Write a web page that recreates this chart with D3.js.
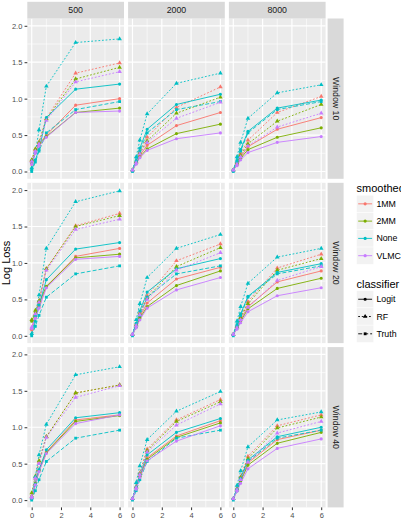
<!DOCTYPE html>
<html>
<head>
<meta charset="utf-8">
<script src="https://cdn.jsdelivr.net/npm/d3@7"></script>
<style>
  html, body { margin: 0; padding: 0; background: #ffffff; }
  svg { display: block; font-family: "Liberation Sans", Arial, Helvetica, sans-serif; }
</style>
</head>
<body>
<svg id="chart" width="401" height="522"></svg>
<script>
// ---------------- DATA ----------------
const xValues = [0, 0.25, 0.5, 1, 3, 6];
const sampleSizes = ["500", "2000", "8000"];
const windows = ["Window 10", "Window 20", "Window 40"];
const smoothers = ["1MM", "2MM", "None", "VLMC"];
const classifiers = ["Logit", "RF", "Truth"];
const yTicks = [0, 0.5, 1, 1.5, 2];
const xTicks = [0, 2, 4, 6];

// Truth classifier (same in every panel), drawn with the "None" colour
const truthLoss = [0.0, 0.13, 0.28, 0.53, 0.85, 0.96];

// Rows of each array follow `smoothers` order: 1MM, 2MM, None, VLMC
const w10s500Logit = [
  [0.10, 0.27, 0.38, 0.50, 0.91, 1.00],
  [0.12, 0.27, 0.36, 0.48, 0.81, 0.87],
  [0.02, 0.16, 0.30, 0.74, 1.13, 1.20],
  [0.10, 0.25, 0.35, 0.47, 0.81, 0.83]
];
const w10s500RF = [
  [0.15, 0.30, 0.40, 0.73, 1.35, 1.49],
  [0.16, 0.31, 0.40, 0.72, 1.27, 1.43],
  [0.05, 0.26, 0.57, 1.17, 1.77, 1.82],
  [0.14, 0.28, 0.38, 0.70, 1.23, 1.37]
];
const w10s2000Logit = [
  [0.02, 0.12, 0.22, 0.36, 0.63, 0.81],
  [0.02, 0.11, 0.20, 0.31, 0.52, 0.65],
  [0.02, 0.15, 0.32, 0.58, 0.92, 1.06],
  [0.02, 0.10, 0.19, 0.29, 0.45, 0.53]
];
const w10s2000RF = [
  [0.02, 0.14, 0.27, 0.47, 0.88, 1.16],
  [0.02, 0.13, 0.25, 0.42, 0.80, 1.02],
  [0.02, 0.20, 0.43, 0.79, 1.21, 1.35],
  [0.02, 0.12, 0.24, 0.40, 0.73, 0.95]
];
const w10s8000Logit = [
  [0.02, 0.10, 0.20, 0.34, 0.58, 0.74],
  [0.02, 0.09, 0.18, 0.30, 0.47, 0.60],
  [0.02, 0.15, 0.30, 0.55, 0.87, 0.98],
  [0.02, 0.08, 0.16, 0.26, 0.40, 0.48]
];
const w10s8000RF = [
  [0.02, 0.12, 0.24, 0.43, 0.81, 1.03],
  [0.02, 0.11, 0.22, 0.38, 0.69, 0.92],
  [0.02, 0.20, 0.40, 0.73, 1.08, 1.19],
  [0.02, 0.10, 0.20, 0.35, 0.61, 0.80]
];
const w20s500Logit = [
  [0.08, 0.25, 0.40, 0.67, 1.09, 1.20],
  [0.20, 0.32, 0.45, 0.68, 1.07, 1.12],
  [0.02, 0.20, 0.42, 0.77, 1.19, 1.28],
  [0.10, 0.24, 0.38, 0.66, 1.05, 1.09]
];
const w20s500RF = [
  [0.10, 0.30, 0.47, 0.92, 1.51, 1.68],
  [0.22, 0.35, 0.48, 0.92, 1.50, 1.65],
  [0.03, 0.28, 0.56, 1.20, 1.84, 1.99],
  [0.12, 0.30, 0.46, 0.90, 1.46, 1.60]
];
const w20s2000Logit = [
  [0.02, 0.13, 0.26, 0.45, 0.78, 0.94],
  [0.02, 0.12, 0.24, 0.40, 0.69, 0.89],
  [0.02, 0.17, 0.34, 0.60, 0.92, 1.06],
  [0.02, 0.11, 0.22, 0.38, 0.63, 0.80]
];
const w20s2000RF = [
  [0.02, 0.16, 0.32, 0.55, 1.03, 1.26],
  [0.02, 0.15, 0.30, 0.52, 0.95, 1.21],
  [0.02, 0.22, 0.44, 0.80, 1.20, 1.39],
  [0.02, 0.14, 0.29, 0.50, 0.90, 1.14]
];
const w20s8000Logit = [
  [0.02, 0.11, 0.22, 0.40, 0.74, 0.89],
  [0.02, 0.10, 0.20, 0.37, 0.65, 0.79],
  [0.02, 0.15, 0.30, 0.54, 0.87, 0.99],
  [0.02, 0.09, 0.18, 0.33, 0.55, 0.66]
];
const w20s8000RF = [
  [0.02, 0.13, 0.26, 0.47, 0.93, 1.12],
  [0.02, 0.12, 0.25, 0.44, 0.90, 1.06],
  [0.02, 0.20, 0.40, 0.72, 1.08, 1.20],
  [0.02, 0.11, 0.22, 0.39, 0.76, 0.95]
];
const w40s500Logit = [
  [0.03, 0.22, 0.40, 0.66, 1.10, 1.17],
  [0.05, 0.23, 0.41, 0.65, 1.08, 1.16],
  [0.02, 0.22, 0.42, 0.69, 1.13, 1.20],
  [0.03, 0.21, 0.39, 0.64, 1.05, 1.17]
];
const w40s500RF = [
  [0.05, 0.30, 0.52, 0.87, 1.47, 1.58],
  [0.10, 0.33, 0.54, 0.87, 1.47, 1.58],
  [0.03, 0.32, 0.62, 1.04, 1.72, 1.83],
  [0.05, 0.30, 0.50, 0.86, 1.41, 1.57]
];
const w40s2000Logit = [
  [0.02, 0.17, 0.33, 0.58, 0.88, 1.09],
  [0.02, 0.16, 0.32, 0.56, 0.86, 1.06],
  [0.02, 0.18, 0.35, 0.62, 0.93, 1.12],
  [0.02, 0.15, 0.31, 0.54, 0.81, 1.02]
];
const w40s2000RF = [
  [0.02, 0.18, 0.37, 0.70, 1.10, 1.38],
  [0.02, 0.18, 0.36, 0.68, 1.08, 1.35],
  [0.02, 0.24, 0.47, 0.83, 1.22, 1.49],
  [0.02, 0.17, 0.35, 0.66, 1.03, 1.32]
];
const w40s8000Logit = [
  [0.02, 0.14, 0.28, 0.51, 0.83, 0.96],
  [0.02, 0.13, 0.26, 0.48, 0.78, 0.93],
  [0.02, 0.15, 0.30, 0.55, 0.87, 1.00],
  [0.02, 0.12, 0.23, 0.43, 0.71, 0.84]
];
const w40s8000RF = [
  [0.02, 0.16, 0.32, 0.60, 1.02, 1.17],
  [0.02, 0.15, 0.31, 0.57, 0.99, 1.14],
  [0.02, 0.20, 0.40, 0.73, 1.10, 1.21],
  [0.02, 0.14, 0.28, 0.52, 0.92, 1.08]
];

// panel lookup [window][size] -> {Logit, RF}
const panelData = [
  [{Logit: w10s500Logit, RF: w10s500RF}, {Logit: w10s2000Logit, RF: w10s2000RF}, {Logit: w10s8000Logit, RF: w10s8000RF}],
  [{Logit: w20s500Logit, RF: w20s500RF}, {Logit: w20s2000Logit, RF: w20s2000RF}, {Logit: w20s8000Logit, RF: w20s8000RF}],
  [{Logit: w40s500Logit, RF: w40s500RF}, {Logit: w40s2000Logit, RF: w40s2000RF}, {Logit: w40s8000Logit, RF: w40s8000RF}]
];

// ---------------- STYLE / LAYOUT ----------------
const colors = {"1MM": "#F8766D", "2MM": "#7CAE00", "None": "#00BFC4", "VLMC": "#C77CFF"};
const dashes = {"Logit": null, "RF": "1.8,1.8", "Truth": "4,2"};
const shapes = {"Logit": d3.symbolCircle, "RF": d3.symbolTriangle, "Truth": d3.symbolSquare};
const shapeSize = {"Logit": 8, "RF": 9, "Truth": 8};

const panelLeft0 = 27.3, panelW = 96.7, colStep = 100.8;
const panelTop0 = 18.5, panelH = 160.3, rowStep = 164.3;
const stripTopY = 1.8;
const rightStripX = 327.6, rightStripW = 16;

const svg = d3.select("#chart");

const x = d3.scaleLinear().domain([-0.3, 6.3]).range([0, panelW]);
const y = d3.scaleLinear().domain([-0.1, 2.1]).range([panelH, 0]);

const line = d3.line().x(d => x(d[0])).y(d => y(d[1]));

windows.forEach((win, r) => {
  sampleSizes.forEach((size, c) => {
    const px = panelLeft0 + c * colStep;
    const py = panelTop0 + r * rowStep;
    const g = svg.append("g").attr("transform", `translate(${px},${py})`);

    // panel background
    g.append("rect").attr("width", panelW).attr("height", panelH).attr("fill", "#EBEBEB");

    // minor grid
    const xMinor = [1, 3, 5];
    const yMinor = [0.25, 0.75, 1.25, 1.75];
    g.selectAll(".xminor").data(xMinor).enter().append("line")
      .attr("x1", d => x(d)).attr("x2", d => x(d)).attr("y1", 0).attr("y2", panelH)
      .attr("stroke", "#fff").attr("stroke-width", 0.6);
    g.selectAll(".yminor").data(yMinor).enter().append("line")
      .attr("y1", d => y(d)).attr("y2", d => y(d)).attr("x1", 0).attr("x2", panelW)
      .attr("stroke", "#fff").attr("stroke-width", 0.6);
    // major grid
    g.selectAll(".xmajor").data(xTicks).enter().append("line")
      .attr("x1", d => x(d)).attr("x2", d => x(d)).attr("y1", 0).attr("y2", panelH)
      .attr("stroke", "#fff").attr("stroke-width", 1.2);
    g.selectAll(".ymajor").data(yTicks).enter().append("line")
      .attr("y1", d => y(d)).attr("y2", d => y(d)).attr("x1", 0).attr("x2", panelW)
      .attr("stroke", "#fff").attr("stroke-width", 1.2);

    // build series
    const pd = panelData[r][c];
    const series = [];
    smoothers.forEach((sm, si) => {
      series.push({sm, cl: "Logit", vals: pd.Logit[si]});
      series.push({sm, cl: "RF", vals: pd.RF[si]});
      if (sm === "None") series.push({sm, cl: "Truth", vals: truthLoss});
    });

    series.forEach(s => {
      const pts = xValues.map((xv, i) => [xv, s.vals[i]]);
      g.append("path").attr("d", line(pts))
        .attr("fill", "none").attr("stroke", colors[s.sm]).attr("stroke-width", 0.9)
        .attr("stroke-dasharray", dashes[s.cl]);
    });
    series.forEach(s => {
      const sym = d3.symbol().type(shapes[s.cl]).size(shapeSize[s.cl]);
      xValues.forEach((xv, i) => {
        g.append("path").attr("d", sym())
          .attr("transform", `translate(${x(xv)},${y(s.vals[i])})`)
          .attr("fill", colors[s.sm]);
      });
    });

    // top strip
    if (r === 0) {
      const sg = svg.append("g").attr("transform", `translate(${px},${stripTopY})`);
      sg.append("rect").attr("width", panelW).attr("height", panelTop0 - stripTopY).attr("fill", "#D9D9D9");
      sg.append("text").attr("x", panelW / 2).attr("y", (panelTop0 - stripTopY) / 2)
        .attr("text-anchor", "middle").attr("dominant-baseline", "central")
        .attr("font-size", 8.8).attr("fill", "#1A1A1A").text(size);
    }
    // right strip
    if (c === 2) {
      const sg = svg.append("g").attr("transform", `translate(${rightStripX},${py})`);
      sg.append("rect").attr("width", rightStripW).attr("height", panelH).attr("fill", "#D9D9D9");
      sg.append("text")
        .attr("transform", `translate(${rightStripW / 2},${panelH / 2}) rotate(90)`)
        .attr("text-anchor", "middle").attr("dominant-baseline", "central")
        .attr("font-size", 8.8).attr("fill", "#1A1A1A").text(win);
    }
    // y axis
    if (c === 0) {
      const ax = g.append("g").call(d3.axisLeft(y).tickValues(yTicks).tickFormat(d3.format(".1f")).tickSize(2.75).tickPadding(2.2));
      ax.select(".domain").remove();
      ax.selectAll("line").attr("stroke", "#333333").attr("stroke-width", 1);
      ax.selectAll("text").attr("fill", "#4D4D4D").attr("font-size", 7.5)
        .attr("font-family", "Liberation Sans, Arial, sans-serif");
    }
    // x axis
    if (r === 2) {
      const ax = g.append("g").attr("transform", `translate(0,${panelH})`)
        .call(d3.axisBottom(x).tickValues(xTicks).tickFormat(d3.format("d")).tickSize(2.75).tickPadding(2.2));
      ax.select(".domain").remove();
      ax.selectAll("line").attr("stroke", "#333333").attr("stroke-width", 1);
      ax.selectAll("text").attr("fill", "#4D4D4D").attr("font-size", 7.5)
        .attr("font-family", "Liberation Sans, Arial, sans-serif");
    }
  });
});

// y axis title
svg.append("text")
  .attr("transform", `translate(5.8,${panelTop0 + (rowStep * 2 + panelH) / 2}) rotate(-90)`)
  .attr("text-anchor", "middle").attr("dominant-baseline", "central")
  .attr("font-size", 11).attr("fill", "#000").text("Log Loss");

// ---------------- LEGENDS ----------------
const legX = 356.5, keyW = 17.28;
function legendTitle(text, yBase) {
  svg.append("text").attr("x", legX).attr("y", yBase).attr("font-size", 11).attr("fill", "#000").text(text);
}
function legendKey(yTop, color, cl, label) {
  const kg = svg.append("g").attr("transform", `translate(${legX},${yTop})`);
  kg.append("rect").attr("width", keyW).attr("height", keyW).attr("fill", "#F2F2F2")
    .attr("stroke", "#fff").attr("stroke-width", 0.5);
  kg.append("line").attr("x1", 1.7).attr("x2", keyW - 1.7).attr("y1", keyW / 2).attr("y2", keyW / 2)
    .attr("stroke", color).attr("stroke-width", 0.9).attr("stroke-dasharray", dashes[cl]);
  kg.append("path").attr("d", d3.symbol().type(shapes[cl]).size(shapeSize[cl])())
    .attr("transform", `translate(${keyW / 2},${keyW / 2})`).attr("fill", color);
  svg.append("text").attr("x", legX + keyW + 2.6).attr("y", yTop + keyW / 2)
    .attr("dominant-baseline", "central").attr("font-size", 8.8).attr("fill", "#000").text(label);
}

legendTitle("smoothed", 192);
smoothers.forEach((sm, i) => legendKey(195.2 + i * keyW, colors[sm], "Logit", sm));

legendTitle("classifier", 287.5);
classifiers.forEach((cl, i) => legendKey(290.6 + i * keyW, "#000", cl, cl));
</script>
</body>
</html>
